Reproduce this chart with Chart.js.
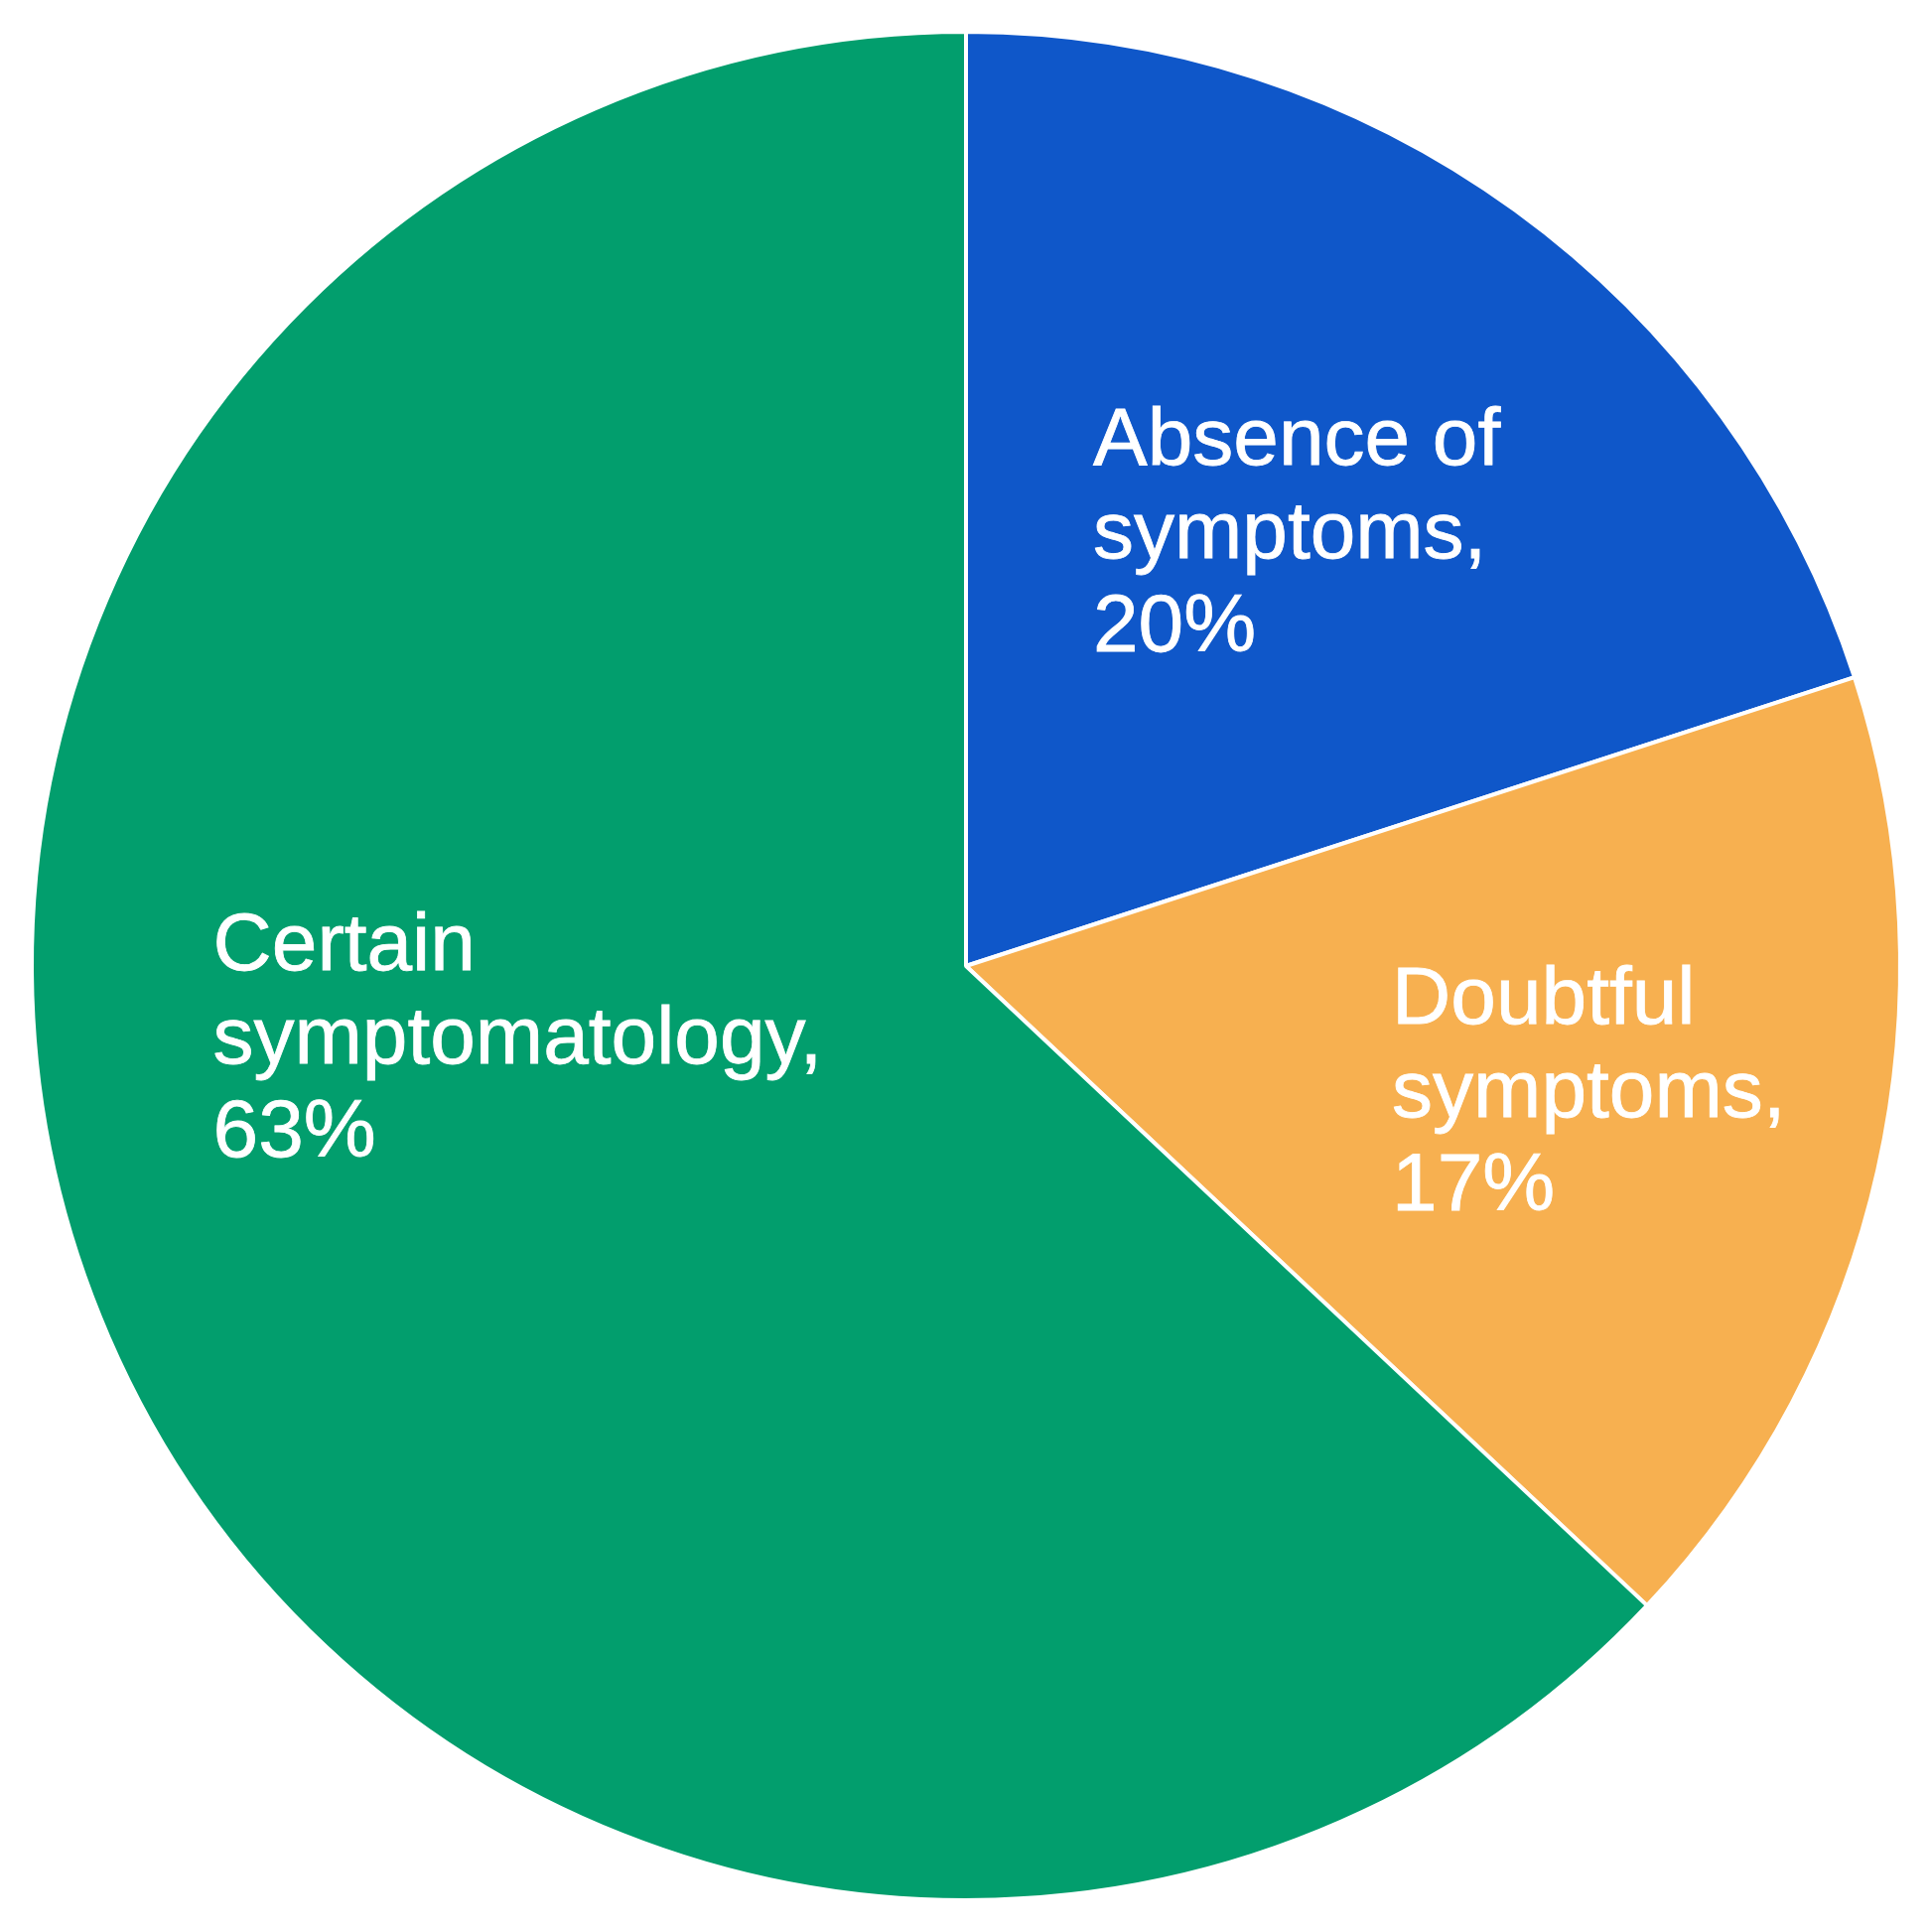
<!DOCTYPE html>
<html>
<head>
<meta charset="utf-8">
<script src="https://cdn.jsdelivr.net/npm/chart.js@4/dist/chart.umd.min.js"></script>
<style>
  html, body { margin: 0; padding: 0; background: #fff; }
  #wrap { width: 1946px; height: 1946px; }
</style>
</head>
<body>
<div id="wrap"><canvas id="pie-chart"></canvas></div>
<script>
// === Data ===
const categories = [
  ["Absence of", "symptoms"],
  ["Doubtful", "symptoms"],
  ["Certain", "symptomatology"],
];
const shares = [20, 17, 63];
const sliceColors = ["#0f57c9", "#f7b050", "#029e6d"];

// label anchor (left edge, first baseline) in units of the pie radius
const labelAnchors = [
  [0.136, -0.537],
  [0.456, 0.062],
  [-0.806, 0.004],
];

// draws the white multi-line labels inside each slice
const sliceLabels = {
  id: "sliceLabels",
  afterDatasetsDraw(chart) {
    const ctx = chart.ctx;
    const arcs = chart.getDatasetMeta(0).data;
    ctx.save();
    ctx.fillStyle = "#fff";
    ctx.strokeStyle = "#fff";
    ctx.lineWidth = 0.8;
    ctx.font = '82px "Liberation Sans", Arial, sans-serif';
    ctx.textAlign = "left";
    ctx.textBaseline = "alphabetic";
    arcs.forEach((arc, i) => {
      const r = arc.outerRadius;
      const x = arc.x + labelAnchors[i][0] * r;
      let y = arc.y + labelAnchors[i][1] * r;
      const lines = categories[i].slice();
      lines[lines.length - 1] += ",";
      lines.push(`${shares[i]}%`);
      lines.forEach((line) => {
        ctx.fillText(line, x, y);
        ctx.strokeText(line, x, y); // a touch heavier, like the original
        y += 94;
      });
    });
    ctx.restore();
  },
};

new Chart(document.getElementById("pie-chart"), {
  type: "pie",
  data: {
    labels: categories.map((c) => c.join(" ")),
    datasets: [
      {
        data: shares,
        backgroundColor: sliceColors,
        borderColor: "#fff",
        borderWidth: 4,
      },
    ],
  },
  options: {
    responsive: true,
    maintainAspectRatio: false,
    animation: false,
    layout: { padding: 30 },
    plugins: {
      legend: { display: false },
      tooltip: { enabled: false },
    },
  },
  plugins: [sliceLabels],
});
</script>
</body>
</html>
